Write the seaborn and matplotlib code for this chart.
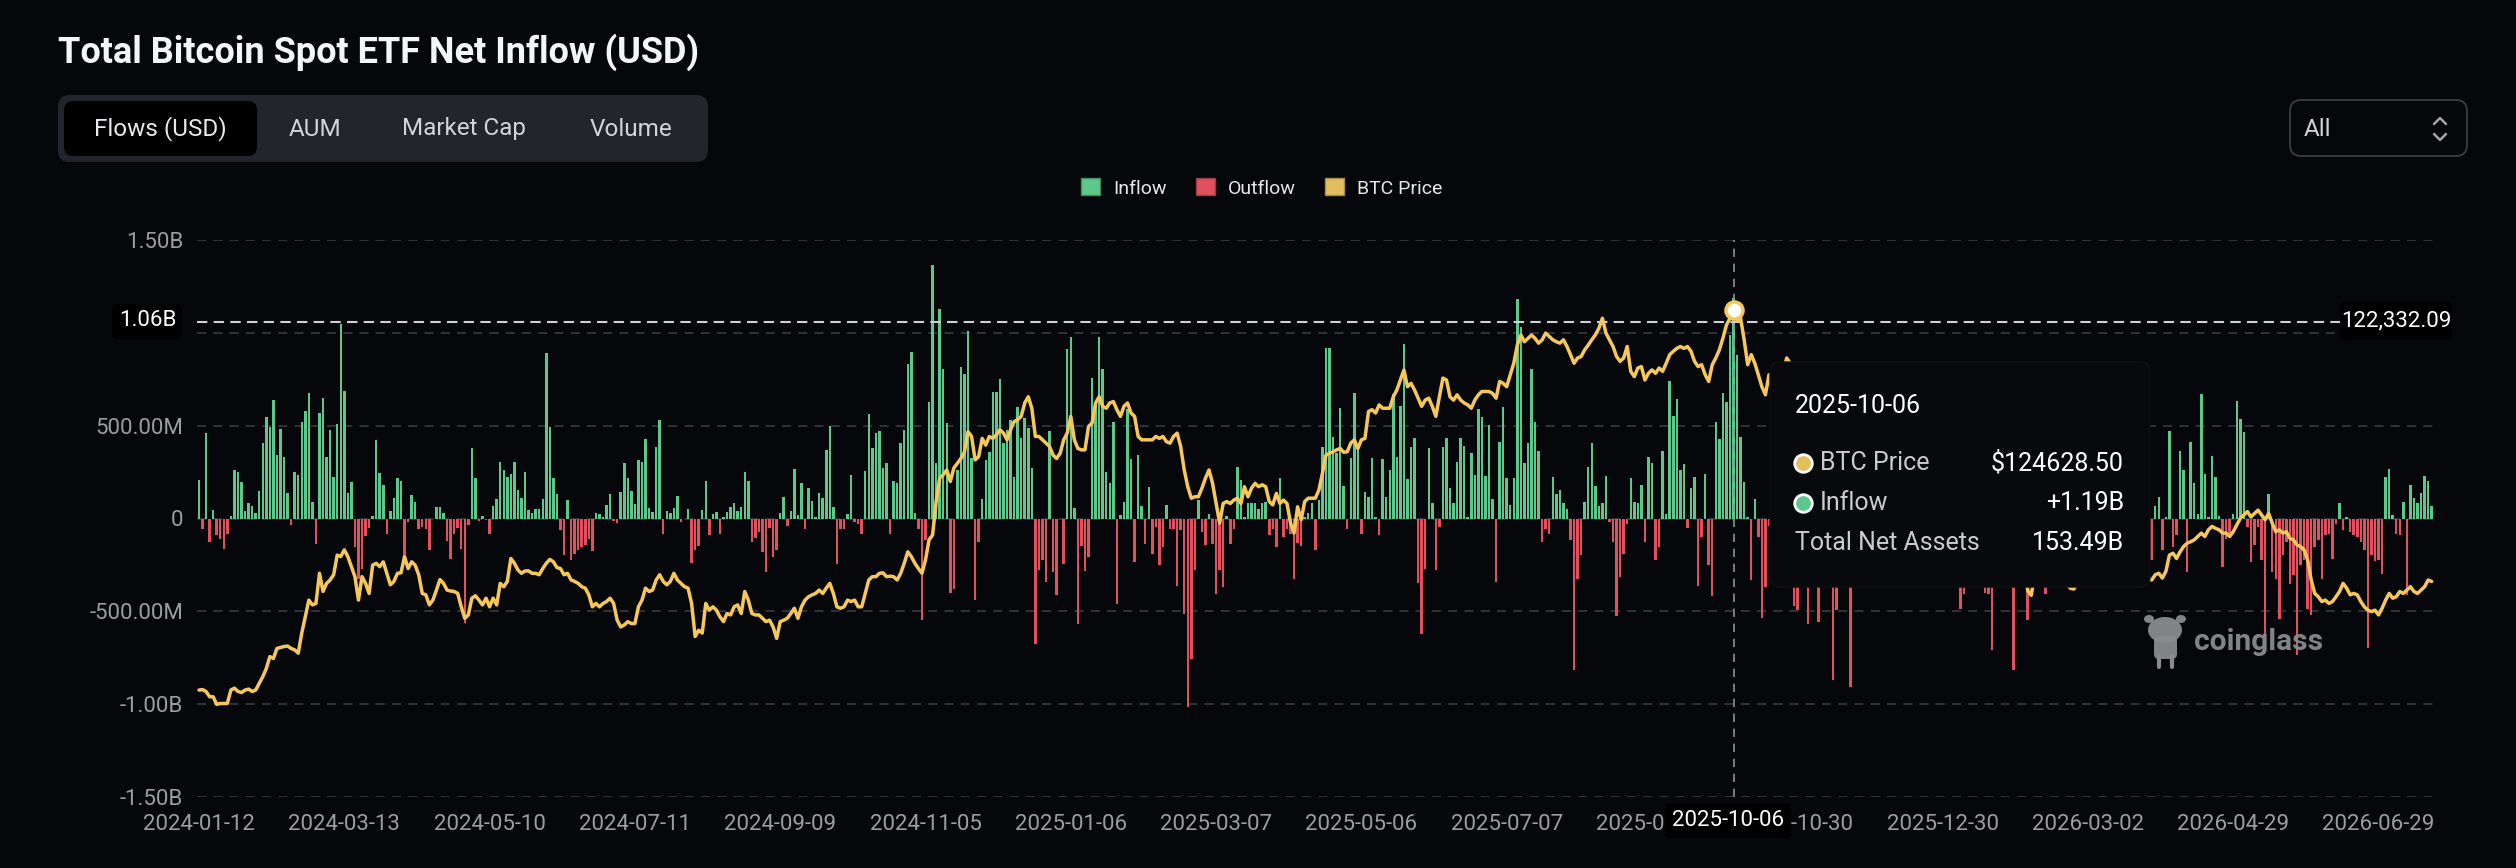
import matplotlib
matplotlib.use("Agg")
import matplotlib.pyplot as plt
from matplotlib.patches import FancyBboxPatch, Patch, Ellipse
import numpy as np
import pandas as pd
import seaborn as sns

# daily net flow of all spot BTC ETFs, million USD, one value per trading day from 2024-01-12
net_flow_musd = [
    # 2024-01 .. 2024-07
    207, -54, 459, -126, 45, -90, -108, -162, -81, 14,
    261, 248, 198, 40, 81, 68, 32, 147, 408, 545,
    495, 638, 342, 480, 333, 135, -36, 252, 234, 522,
    581, 674, 90, -138, 567, 651, 333, 477, 225, 507,
    1049, 687, 135, 198, -153, -324, -270, -95, -49, 16,
    423, 246, 183, -85, 41, 113, 216, 203, -198, -18,
    124, 90, -54, -45, -59, -167, 0, 63, 63, 32,
    -122, -216, -81, -49, -162, -563, -36, 378, 219, -14,
    13, -9, -86, 67, 103, 306, 261, 221, 239, 306,
    156, 108, 252, 45, 27, 49, 49, 106, 890, 491,
    219, 131, -63, -198, 99, -225, -189, -171, -153, -144,
    -108, -174, 31, 22, 9, 72, 130, -13, -23, 144,
    297, 216, 147, 77, 315,
    # 2024-07 .. 2025-01
    306, 426, 54, 36, 387, 531, -81, 41, 31, 54,
    120, -18, 0, 52, -239, -171, -149, 45, 203, -90,
    23, 36, -81, 9, 36, 63, 86, 40, 63, 252,
    201, -128, -104, -72, -180, -288, -49, -210, -171, 31,
    117, -41, 41, 264, 18, 189, -54, 162, 94, 9,
    138, 108, 369, 498, 63, -243, -54, -54, 23, 234,
    -18, -31, -81, 255, 561, 378, 459, 473, 270, 300,
    -81, 201, 192, 405, 477, 833, 899, 31, -54, -545,
    -117, 626, 1367, 297, 1128, 804, 516, -401, -378, 261,
    818, 777, 1011, 324, -437, -126, 103, 315, 360, 680,
    683, 750, 408, 477, 531, 225, 599, 432, 540, 489,
    270, -674, -279, -225, -342, 473, -288, -414, 0, -243,
    912, 980, 54, -570, -149, -284, -207,
    # 2025-01 .. 2025-07
    759, 629, 980, 806, 248, 189, 522, -459, 18, 90,
    588, 320, -234, 342, 67, -138, 171, -189, -45, -252,
    -153, 72, -59, -59, -365, -63, -513, -1013, -755, -275,
    99, -72, -144, 22, -135, -408, -279, -369, 13, -135,
    -54, 275, 210, 9, 85, 85, 81, 49, 86, 90,
    -90, -59, -153, 219, -99, -59, -81, -324, -131, -149,
    9, 27, 81, -171, 99, 383, 917, 921, 441, 351,
    594, 174, -54, 324, 678, 378, -86, 144, 117, 324,
    9, -90, 320, 117, 261, 671, 333, 608, 939, 212,
    387, 435, -345, -622, -270, 378, 86, -279, -45, 387,
    432, 162, 85, 306, 435, 390, 9, 351, 234, 588,
    549, 228, 504, 103, -342, 410, 603, 216, 72, 216,
    1182, 1031, 300, 405, 804, 522, 365,
    # 2025-07 .. 2025-10-20
    -126, -54, -81, 225, 131, 156, 81, 49, -117, -818,
    -324, -198, 90, 279, 405, 174, 67, 85, 230, -18,
    -126, -527, -315, -189, -27, 219, 90, 81, 180, -126,
    333, 300, -221, -153, 365, 23, 743, 552, 644, 261,
    293, -49, 162, 221, -363, -99, 239, -252, -419, 522,
    428, 678, 626, 989, 1190, 878, 441, 198, 9, -329,
    103, -99, -534, -369, -41,
    # behind the tooltip (only the deep outflows are readable)
    -40, -101, 20, 90, 149, 202, -473, -491, -191, -187,
    -570, 240, -137, -558, 1, 524, -278, -869, -494, -255,
    -350, 75, -905, 238, 128, 129, 21, 71, -3, -15,
    58, -195, 55, 151, 152, 224, -78, 49, -358, -277,
    457, -161, -158, -142, -189, -175, -276, -19, 355, -348,
    471, 697, -243, -489, -405, -250, 117, 754, 800, 100,
    -399, -408, -710, -32, -104, 7, -147, -20, -818, -300,
    562, -272, -548, -300, 371, 145, 167, -408, -276, 15,
    166, -120, -250, 88, -133, -104, 258, -316, -204, 205,
    62, -196, -163, -340, 145, 300, 225, 40, -165, -170,
    80, -200, 120, -90, 230, -160, -50,
    # last stretch
    -225, 68, 117, -171, 9, 473, -156, -90, 363, 261,
    -288, 414, 189, 23, 669, 239, 9, 338, 225, 13,
    -261, -108, -81, 23, 631, 534, 468, -45, -234, -144,
    -45, -225, -640, 130, -288, -324, -540, -198, -126, -351,
    -306, -737, -252, -221, -486, -522, -153, -117, -324, -90,
    -81, -216, -27, 85, -63, 9, -72, -90, -99, -126,
    -167, -697, -198, -228, -225, -297, 225, 264, 18, -81,
    -90, 90, -414, 180, 108, 81, 135, 228, 203, 68,
]

# BTC price, thousand USD, same days
btc_price_k = [
    45.2, 45.3, 44.9, 43.8, 43.8, 42.2, 42.4, 42.4, 42.4, 45.2,
    45.6, 44.9, 44.7, 45.2, 45.4, 44.9, 45.2, 46.6, 48.0, 49.7,
    52.2, 51.8, 53.9, 54.1, 54.3, 54.4, 53.9, 53.6, 52.9, 57.1,
    60.5, 64.0, 63.0, 63.3, 69.6, 65.8, 67.5, 68.2, 69.3, 73.4,
    73.1, 74.5, 73.1, 71.0, 68.9, 64.0, 68.9, 67.5, 65.4, 71.3,
    71.7, 71.0, 72.0, 69.6, 67.2, 67.9, 69.6, 69.7, 73.1, 70.6,
    72.0, 71.3, 69.3, 65.4, 65.1, 63.0, 64.0, 66.1, 68.3, 67.5,
    66.1, 65.9, 65.8, 65.4, 62.6, 60.2, 60.9, 64.4, 64.9, 64.0,
    63.0, 64.4, 62.6, 64.4, 63.0, 67.5, 66.8, 67.9, 72.7, 71.7,
    70.3, 69.6, 70.1, 70.1, 69.6, 69.6, 69.3, 70.6, 71.7, 72.5,
    72.0, 70.8, 70.6, 69.3, 69.6, 68.2, 67.9, 67.5, 66.8, 66.5,
    65.1, 62.6, 63.3, 62.6, 63.3, 63.7, 64.4, 63.3, 59.8, 58.4,
    58.8, 59.5, 59.1, 59.1, 62.6,
    64.0, 66.5, 65.8, 66.1, 68.2, 69.3, 67.9, 67.2, 67.9, 69.6,
    68.2, 67.5, 66.8, 66.5, 63.3, 56.4, 57.7, 57.1, 63.3, 61.9,
    62.6, 61.9, 60.5, 59.5, 61.2, 60.9, 62.6, 63.0, 61.2, 65.8,
    64.0, 61.2, 60.9, 60.9, 60.2, 59.5, 59.8, 58.4, 56.0, 59.5,
    59.8, 60.2, 61.2, 62.3, 60.2, 62.6, 64.0, 64.7, 65.1, 65.4,
    66.1, 65.4, 66.5, 67.5, 65.4, 62.6, 62.3, 62.6, 64.0, 63.7,
    64.0, 62.6, 62.6, 65.4, 68.2, 68.9, 68.9, 69.6, 69.7, 68.9,
    69.0, 68.9, 68.2, 69.6, 71.7, 74.1, 73.1, 71.7, 70.6, 69.6,
    72.4, 76.6, 77.6, 84.6, 89.5, 90.2, 91.2, 88.8, 91.6, 92.6,
    93.6, 95.0, 99.2, 98.2, 93.3, 94.0, 97.8, 96.4, 98.2, 97.8,
    98.5, 99.6, 98.9, 97.5, 99.6, 101.3, 101.7, 102.4, 105.2, 106.5,
    104.1, 98.2, 98.2, 97.5, 96.8, 96.1, 94.3, 93.6, 94.7, 97.5,
    98.9, 102.4, 97.5, 95.7, 95.4, 95.4, 100.3,
    101.0, 105.2, 106.5, 104.5, 104.1, 105.2, 105.5, 103.8, 102.4, 104.5,
    105.2, 103.1, 102.4, 98.2, 97.5, 97.5, 97.5, 97.5, 98.2, 97.8,
    98.2, 97.1, 96.8, 98.2, 98.9, 96.1, 91.2, 87.7, 85.3, 85.6,
    85.6, 87.4, 89.5, 91.2, 88.4, 84.2, 80.1, 84.2, 84.6, 84.2,
    84.9, 85.3, 84.2, 87.7, 85.6, 87.4, 88.4, 87.7, 88.1, 87.7,
    84.6, 83.9, 86.3, 84.2, 84.9, 84.2, 80.1, 78.0, 83.5, 80.8,
    84.6, 85.3, 85.3, 85.3, 87.0, 90.5, 94.3, 94.7, 95.0, 95.4,
    95.7, 94.9, 95.0, 96.8, 97.5, 95.7, 97.5, 97.8, 103.4, 103.8,
    103.1, 104.8, 104.1, 104.1, 104.1, 106.5, 107.9, 110.0, 112.1, 108.6,
    109.3, 107.9, 106.2, 104.5, 105.8, 106.2, 104.5, 102.4, 106.5, 110.4,
    110.0, 106.5, 105.8, 106.9, 105.8, 105.2, 104.8, 104.1, 105.8, 106.9,
    107.6, 107.6, 107.6, 107.2, 106.2, 109.7, 109.3, 108.6, 111.1, 113.5,
    117.3, 119.4, 118.0, 118.7, 119.4, 118.7, 117.7,
    118.4, 119.8, 119.1, 118.4, 118.0, 117.7, 118.4, 117.0, 115.3, 113.5,
    114.6, 114.9, 116.3, 117.3, 118.4, 119.4, 120.8, 122.9, 119.8, 118.4,
    117.0, 114.9, 113.9, 114.6, 117.0, 111.8, 110.7, 112.5, 112.8, 110.0,
    111.4, 112.1, 111.4, 112.5, 111.8, 113.5, 115.3, 116.0, 116.6, 117.0,
    116.6, 117.0, 116.0, 113.9, 112.8, 113.2, 111.1, 109.7, 113.2, 114.6,
    116.3, 118.7, 121.5, 122.9, 124.6, 122.6, 122.9, 118.4, 113.2, 115.3,
    113.5, 111.1, 108.6, 106.9, 111.1,
    108.0, 107.5, 110.0, 111.5, 114.6, 113.5, 110.5, 108.0, 109.5, 106.5,
    101.5, 103.5, 101.5, 103.0, 106.0, 103.0, 101.5, 99.0, 95.5, 92.5,
    92.5, 91.5, 87.0, 84.5, 88.5, 87.5, 90.5, 91.0, 86.5, 91.5,
    93.5, 92.0, 89.5, 90.5, 92.5, 92.0, 92.5, 90.5, 86.5, 87.5,
    86.0, 85.5, 88.0, 88.5, 87.5, 87.5, 87.0, 87.5, 88.5, 87.5,
    90.0, 93.5, 93.5, 91.5, 90.5, 90.5, 91.0, 96.0, 97.0, 95.5,
    95.0, 90.5, 89.5, 89.5, 89.0, 88.0, 89.0, 89.0, 84.5, 82.5,
    78.5, 76.0, 66.0, 65.0, 69.5, 70.5, 69.0, 67.5, 68.0, 68.5,
    68.0, 67.5, 68.5, 67.5, 66.5, 66.3, 67.5, 68.0, 68.5, 70.0,
    68.0, 67.5, 68.5, 70.5, 70.0, 71.5, 72.0, 73.5, 71.5, 71.0,
    70.0, 69.0, 70.5, 70.0, 68.5, 67.5, 68.5,
    68.2, 69.3, 69.6, 68.6, 70.0, 73.4, 73.8, 72.7, 74.1, 75.2,
    75.9, 76.2, 76.6, 77.3, 78.0, 77.3, 78.7, 79.4, 79.0, 78.7,
    78.0, 78.0, 77.3, 78.3, 79.7, 81.1, 81.8, 82.5, 81.4, 82.1,
    82.8, 81.8, 80.8, 82.1, 80.1, 78.3, 78.7, 78.0, 78.3, 76.9,
    76.6, 75.5, 75.2, 74.5, 72.4, 68.2, 65.4, 64.7, 63.7, 64.0,
    63.3, 63.7, 64.7, 65.8, 67.5, 66.5, 65.1, 65.4, 65.1, 63.7,
    62.6, 61.9, 61.6, 61.9, 60.9, 62.3, 64.0, 65.4, 64.4, 64.7,
    65.8, 65.4, 66.1, 66.8, 65.8, 65.4, 66.1, 66.8, 68.2, 67.9,
]

date_ticks = ["2024-01-12", "2024-03-13", "2024-05-10", "2024-07-11", "2024-09-09",
              "2024-11-05", "2025-01-06", "2025-03-07", "2025-05-06", "2025-07-07",
              "2025-09-03", "2025-10-30", "2025-12-30", "2026-03-02", "2026-04-29",
              "2026-06-29"]
flow_ticks = [-1.5, -1.0, -0.5, 0, 0.5, 1.0, 1.5]
# the 1.00B label sits behind the cursor label in the reference
flow_tick_labels = ["-1.50B", "-1.00B", "-500.00M", "0", "500.00M", "", "1.50B"]
tabs = ["Flows (USD)", "AUM", "Market Cap", "Volume"]

hover_day = 433
hover_date = "2025-10-06"
hover_price = "$124628.50"
hover_flow = "+1.19B"
hover_assets = "153.49B"
cursor_flow_label = "1.06B"
cursor_price_label = "122,332.09"
cursor_flow = 1.06

BG = "#06070b"
GREEN = "#5cc88b"
RED = "#e0505e"
GOLD = "#f6c85c"
GOLD_KEY = "#e3be5f"
GREY = "#9b9da3"

sns.set_theme(style="dark", rc={"figure.facecolor": BG, "axes.facecolor": BG,
                                "savefig.facecolor": BG, "text.color": "white"})
plt.rcParams["font.family"] = ["Roboto", "DejaVu Sans"]

n = min(len(net_flow_musd), len(btc_price_k))
df = pd.DataFrame({"day": np.arange(n), "flow": np.array(net_flow_musd[:n]) / 1000.0,
                   "price": np.array(btc_price_k[:n])})
df["kind"] = np.where(df["flow"] >= 0, "Inflow", "Outflow")

W, H = 2516, 868
fig = plt.figure(figsize=(W / 100, H / 100), dpi=100)
ax = fig.add_axes([197 / W, 1 - 797 / H, 2240 / W, 557 / H])

sns.barplot(data=df, x="day", y="flow", hue="kind", palette={"Inflow": GREEN, "Outflow": RED},
            native_scale=True, dodge=False, width=0.7, errorbar=None, legend=False,
            saturation=1, linewidth=0, ax=ax)

ax.set_xlim(-0.56, 631.5)
ax.set_ylim(-1.5, 1.5)
ax.set_yticks(flow_ticks)
ax.set_yticklabels(flow_tick_labels)
tick_pos = list(range(0, 41 * len(date_ticks), 41))
ax.set_xticks(tick_pos)
ax.set_xticklabels(date_ticks)
ax.set_xlabel("")
ax.set_ylabel("")
ax.tick_params(axis="both", length=0, colors=GREY, labelsize=16)
ax.tick_params(axis="y", pad=10)
ax.tick_params(axis="x", pad=12)
for s in ax.spines.values():
    s.set_visible(False)
ax.set_axisbelow(True)
ax.grid(axis="y", color="#33363d", linestyle=(0, (5, 4)), linewidth=1.3)
ax.grid(axis="x", visible=False)

# crosshair
ax.axvline(hover_day, color="#8f9096", linestyle=(0, (5, 4)), linewidth=1.2, zorder=4)
ax.axhline(cursor_flow, color="#cfd0d4", linestyle=(0, (5, 3)), linewidth=1.5, zorder=4)

# price on a hidden right axis
ax2 = ax.twinx()
sns.lineplot(x=df["day"], y=df["price"], ax=ax2, color=GOLD, linewidth=2.5, estimator=None)
ax2.set_ylim(22.85, 139.26)
ax2.scatter([hover_day], [df["price"][hover_day]], s=150, facecolor="white",
            edgecolor=GOLD, linewidth=2.5, zorder=6)
ax2.set_axis_off()

# overlay in pixel coordinates for the page furniture
ov = fig.add_axes([0, 0, 1, 1])
ov.set_zorder(10)
ov.set_xlim(0, W)
ov.set_ylim(H, 0)
ov.axis("off")


def box(x0, y0, x1, y1, fc, ec="none", r=8, lw=1.0, alpha=1.0):
    ov.add_patch(FancyBboxPatch((x0, y0), x1 - x0, y1 - y0,
                                boxstyle=f"round,pad=0,rounding_size={r}",
                                fc=fc, ec=ec, lw=lw, alpha=alpha))


ov.text(58, 52, "Total Bitcoin Spot ETF Net Inflow (USD)", fontsize=26, fontweight="bold",
        color="#f4f5f7", va="center", ha="left")

# tabs
box(58, 95, 708, 162, "#22252c", r=12)
box(64, 101, 257, 156, "#000000", r=9)
for label, cx in zip(tabs, [160, 315, 464, 631]):
    ov.text(cx, 129, label, fontsize=17.5, color="#e8e9ec" if label == tabs[0] else "#d2d4d9",
            ha="center", va="center")

# range selector
box(2290, 100, 2467, 156, "none", ec="#3b3d44", r=11, lw=1.3)
ov.text(2304, 129, "All", fontsize=17.5, color="#d2d4d9", ha="left", va="center")
ov.plot([2434, 2440, 2446], [124, 118, 124], color="#a3a5ab", lw=1.8)
ov.plot([2434, 2440, 2446], [134, 140, 134], color="#a3a5ab", lw=1.8)

# legend
handles = [Patch(facecolor=GREEN, edgecolor="#3d8d60", label="Inflow"),
           Patch(facecolor=RED, edgecolor="#9c3a44", label="Outflow"),
           Patch(facecolor=GOLD_KEY, edgecolor="#a68b45", label="BTC Price")]
fig.legend(handles=handles, loc="center", bbox_to_anchor=(1262 / W, 1 - 188 / H), ncol=3,
           frameon=False, fontsize=14, labelcolor="#e6e7ea", handlelength=0.95,
           handleheight=0.95, handletextpad=0.7, columnspacing=1.5)

# cursor labels
box(112, 304, 182, 339, "#000000", r=6)
ov.text(177, 321, cursor_flow_label, fontsize=16, color="white", ha="right", va="center")
box(2340, 302, 2452, 340, "#000000", r=6)
ov.text(2396, 321, cursor_price_label, fontsize=16, color="white", ha="center", va="center")
box(1665, 803, 1791, 838, "#000000", r=5)
ov.text(1728, 821, hover_date, fontsize=16, color="white", ha="center", va="center")

# tooltip
box(1770, 362, 2150, 587, "#08090d", ec="#0f1115", r=10)
ov.text(1795, 406, hover_date, fontsize=18, color="white", ha="left", va="center")
rows = [("BTC Price", hover_price, GOLD_KEY), ("Inflow", hover_flow, GREEN),
        ("Total Net Assets", hover_assets, None)]
for i, (lab, val, dot) in enumerate(rows):
    y = 463 + i * 40
    if dot:
        ov.scatter([1803], [y], s=160, facecolor=dot, edgecolor="white", linewidth=2.0)
        ov.text(1820, y, lab, fontsize=18, color="#c9cbd0", ha="left", va="center")
    else:
        ov.text(1795, y, lab, fontsize=18, color="#c9cbd0", ha="left", va="center")
    ov.text(2124, y, val, fontsize=18, color="white", ha="right", va="center")

# watermark
wm = "#8a8b8e"
ov.add_patch(Ellipse((2165, 630), 34, 26, fc=wm, ec="none", alpha=0.95))
ov.add_patch(Ellipse((2149, 619), 10, 8, fc=wm, ec="none", alpha=0.95))
ov.add_patch(Ellipse((2181, 619), 10, 8, fc=wm, ec="none", alpha=0.95))
box(2154, 636, 2177, 659, wm, r=5, alpha=0.95)
ov.plot([2159, 2159], [656, 667], color=wm, lw=3)
ov.plot([2172, 2172], [656, 667], color=wm, lw=3)
ov.text(2194, 642, "coinglass", fontsize=21.5, fontweight="bold", color=wm, ha="left",
        va="center", alpha=0.95)

fig.savefig("out.png", dpi=100, facecolor=BG)
